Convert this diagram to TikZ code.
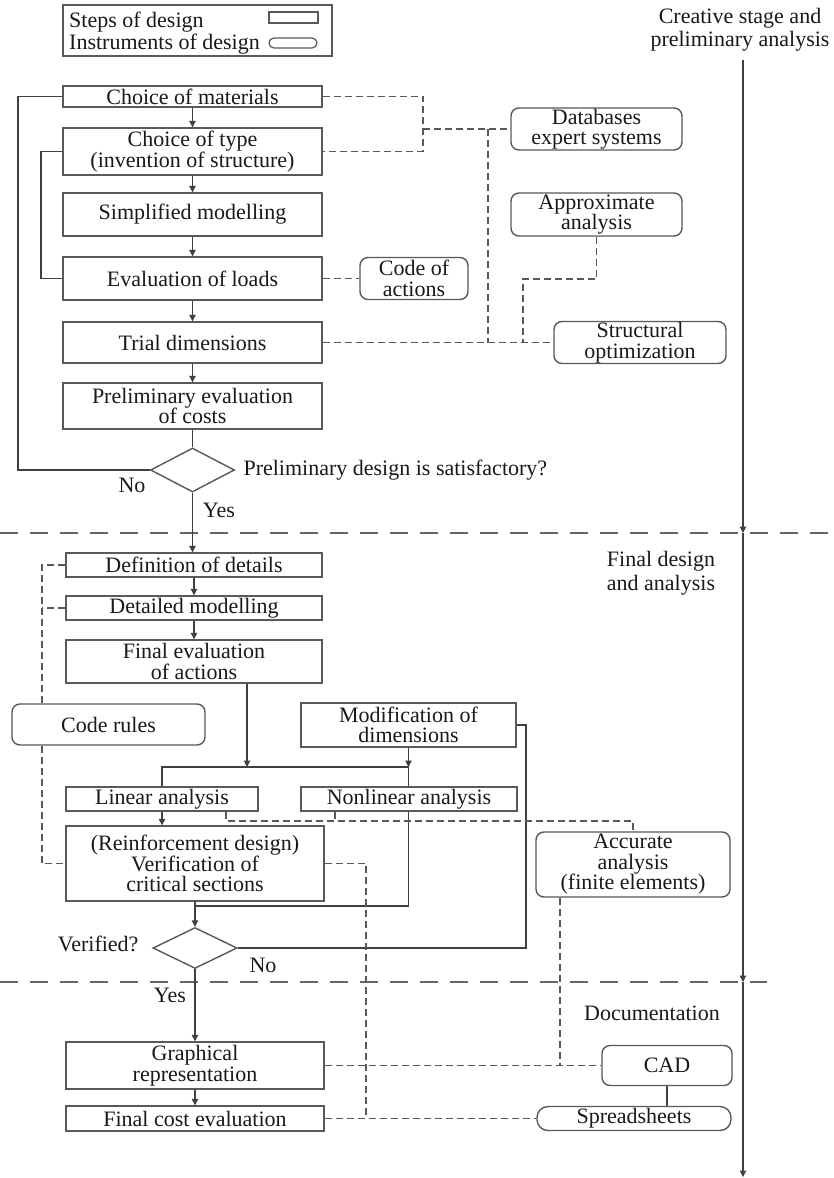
\documentclass[tikz,border=0pt]{standalone}
\usepackage{fontspec}
\setmainfont{Liberation Serif}
\usetikzlibrary{arrows.meta,shapes.geometric}
\begin{document}
\begin{tikzpicture}[x=1pt,y=-1pt,
  every node/.style={font=\fontsize{22}{20.5}\selectfont, text=black!90},
  stepbox/.style={draw=black!65, line width=1.4pt, inner sep=0pt, align=center},
  instbox/.style={stepbox, rounded corners=8pt},
  decbox/.style={draw=black!65, line width=1.4pt, diamond, inner sep=0pt, minimum width=84pt, minimum height=44pt},
  conn/.style={draw=black!75, line width=1.1pt},
  arr/.style={conn, -{Triangle[length=6.5pt,width=6.5pt]}},
  dashline/.style={draw=black!65, line width=1.3pt, dash pattern=on 7pt off 4pt},
  sepline/.style={draw=black!60, line width=1.4pt, dash pattern=on 18pt off 12pt},
  lbl/.style={font=\fontsize{22}{23}\selectfont, align=center}]
\fill[white] (0,0) rectangle (834,1178);
\useasboundingbox (0,0) rectangle (834,1178);

% legend
\node[draw=black!65, line width=1.2pt, minimum width=269pt, minimum height=51pt, inner sep=0pt] (legend) at (197.5,30.5) {};
\node[anchor=base west, inner sep=0pt] (lsteps) at (69,27) {Steps of design};
\node[anchor=base west, inner sep=0pt] (linst) at (69,49) {Instruments of design};
\node[draw=black!65, line width=1.2pt, minimum width=49pt, minimum height=11pt, inner sep=0pt] (lrect) at (293.5,17.5) {};
\node[draw=black!65, line width=1.2pt, rounded corners=5pt, minimum width=48pt, minimum height=10pt, inner sep=0pt] (lround) at (293,43) {};

% separators and timeline
\coordinate (s1a) at (0,533); \coordinate (s1b) at (834,533);
\coordinate (s2a) at (0,982); \coordinate (s2b) at (767,982);
\draw[sepline] (s1a) -- (s1b);
\draw[sepline] (s2a) -- (s2b);
\coordinate (t0) at (743,60); \coordinate (t1) at (743,533);
\coordinate (t2) at (743,982); \coordinate (t3) at (743,1177);
\draw[arr] (t0) -- (t1);
\draw[arr] (t1) -- (t2);
\draw[arr] (t2) -- (t3);
\node[lbl] (lcre) at (740,30) {Creative stage and\\preliminary analysis};
\node[lbl, font=\fontsize{22}{24}\selectfont] (lfin) at (661,573) {Final design\\and analysis};
\node[lbl] (ldoc) at (652,1013) {Documentation};

% steps, preliminary stage
\node[stepbox, minimum width=259pt, minimum height=21pt] (mat) at (192.5,96.5) {Choice of materials};
\node[stepbox, minimum width=259pt, minimum height=47pt] (typ) at (192.5,151.5) {Choice of type\\(invention of structure)};
\node[stepbox, minimum width=259pt, minimum height=43pt] (simp) at (192.5,214.5) {Simplified modelling};
\node[stepbox, minimum width=259pt, minimum height=43pt] (load) at (192.5,278.5) {Evaluation of loads};
\node[stepbox, minimum width=259pt, minimum height=41pt] (trial) at (192.5,342.5) {Trial dimensions};
\node[stepbox, minimum width=259pt, minimum height=46pt] (pcost) at (192.5,406) {Preliminary evaluation\\of costs};
\node[decbox] (d1) at (192.5,470) {};
\node[anchor=west] (lpre) at (240,470) {Preliminary design is satisfactory?};
\node (lno1) at (132,485) {No};
\node (lyes1) at (219,510) {Yes};

% instruments, preliminary stage
\node[instbox, minimum width=171pt, minimum height=42pt] (db) at (596.5,129) {Databases\\expert systems};
\node[instbox, minimum width=171pt, minimum height=43pt] (approx) at (596.5,214.5) {Approximate\\analysis};
\node[instbox, minimum width=108pt, minimum height=42pt] (coa) at (414,278.5) {Code of\\actions};
\node[instbox, minimum width=172pt, minimum height=42pt] (sopt) at (640,342.5) {Structural\\optimization};

% steps, final design
\node[stepbox, minimum width=256pt, minimum height=24pt] (det) at (194,565) {Definition of details};
\node[stepbox, minimum width=256pt, minimum height=24pt] (dmod) at (194,608) {Detailed modelling};
\node[stepbox, minimum width=256pt, minimum height=43pt] (feval) at (194,661.5) {Final evaluation\\of actions};
\node[stepbox, minimum width=215pt, minimum height=44pt] (modif) at (408.5,725) {Modification of\\dimensions};
\node[stepbox, minimum width=192pt, minimum height=24pt] (lin) at (162,799) {Linear analysis};
\node[stepbox, minimum width=216pt, minimum height=24pt] (nonlin) at (409,799) {Nonlinear analysis};
\node[stepbox, minimum width=258pt, minimum height=75pt] (reinf) at (195,863.5) {(Reinforcement design)\\Verification of\\critical sections};
\node[decbox, minimum height=41pt] (d2) at (195,948) {};
\node[anchor=east] (lver) at (142,944) {Verified?};
\node (lno2) at (263,965) {No};
\node (lyes2) at (170,995) {Yes};

% instruments, final design
\node[instbox, minimum width=193pt, minimum height=41pt] (crules) at (108.5,724.5) {Code rules};
\node[instbox, minimum width=194pt, minimum height=65pt] (acc) at (633,864.5) {Accurate\\analysis\\(finite elements)};

% documentation
\node[stepbox, minimum width=258pt, minimum height=47pt] (graph) at (195,1065.5) {Graphical\\representation};
\node[stepbox, minimum width=258pt, minimum height=25pt] (fcost) at (195,1118.5) {Final cost evaluation};
\node[instbox, minimum width=130pt, minimum height=40pt] (cad) at (667,1065.5) {CAD};
\node[instbox, rounded corners=11pt, minimum width=194pt, minimum height=24pt] (sheets) at (634,1118.5) {Spreadsheets};

% main flow
\draw[arr] (mat) -- (typ);
\draw[arr] (typ) -- (simp);
\draw[arr] (simp) -- (load);
\draw[arr] (load) -- (trial);
\draw[arr] (trial) -- (pcost);
\draw[conn] (pcost) -- (d1);
\draw[arr] (d1.south) -- (d1.south |- det.north);
\draw[arr] (det) -- (dmod);
\draw[arr] (dmod) -- (feval);
\coordinate (jl) at (162,767); \coordinate (jm) at (247,767); \coordinate (jr) at (408.5,767);
\draw[arr] (feval.south -| jm) -- (jm);
\draw[arr] (modif) -- (jr);
\draw[conn] (lin.north -| jl) -- (jl) -- (jr) -- (nonlin.north -| jr);
\draw[arr] (lin) -- (lin |- reinf.north);
\draw[arr] (reinf) -- (d2);
\coordinate (nl) at (408.5,906);
\draw[conn] (nonlin.south -| nl) -- (nl) -- (nl -| d2);
\coordinate (nr1) at (526,948); \coordinate (nr2) at (526,725);
\draw[conn] (d2.east) -- (nr1) -- (nr2) -- (modif.east);
\draw[arr] (d2) -- (graph);
\draw[arr] (graph) -- (fcost);

% feedback loops
\coordinate (fb1) at (18,470); \coordinate (fb2) at (18,96.5);
\draw[conn] (d1.west) -- (fb1) -- (fb2) -- (mat.west);
\coordinate (fb3) at (41,278.5); \coordinate (fb4) at (41,151.5);
\draw[conn] (load.west) -- (fb3) -- (fb4) -- (typ.west);

% dashed links, preliminary
\coordinate (q1) at (423,96.5); \coordinate (q2) at (423,151.5);
\coordinate (q3) at (423,129); \coordinate (q4) at (488,129); \coordinate (q5) at (488,342.5);
\draw[dashline] (mat.east) -- (q1) -- (q2) -- (typ.east);
\draw[dashline] (q3) -- (db.west);
\draw[dashline] (q4) -- (q5);
\draw[dashline] (trial.east) -- (sopt.west);
\coordinate (q6) at (596.5,279); \coordinate (q7) at (523,279); \coordinate (q8) at (523,342.5);
\draw[dashline] (approx.south) -- (q6) -- (q7) -- (q8);
\draw[dashline] (load.east) -- (coa.west);

% dashed links, final design
\coordinate (c1) at (42,565); \coordinate (c2) at (42,608); \coordinate (c3) at (42,863.5);
\draw[dashline] (det.west) -- (c1) -- (c1 |- crules.north);
\draw[dashline] (dmod.west) -- (c2);
\draw[dashline] (crules.south -| c3) -- (c3) -- (reinf.west);
\coordinate (a1) at (226,821); \coordinate (a2) at (335,821); \coordinate (a3) at (633,821);
\draw[dashline] (lin.south -| a1) -- (a1) -- (a3) -- (acc.north);
\draw[dashline] (nonlin.south -| a2) -- (a2);
\coordinate (r1) at (366,863.5); \coordinate (r2) at (366,1118.5);
\draw[dashline] (reinf.east) -- (r1) -- (r2);

% dashed links, documentation
\draw[dashline] (fcost.east) -- (sheets.west);
\draw[dashline] (graph.east) -- (cad.west);
\coordinate (g1) at (560,1065.5);
\draw[dashline] (acc.south -| g1) -- (g1);
\draw[conn] (cad) -- (cad |- sheets.north);
\end{tikzpicture}
\end{document}
